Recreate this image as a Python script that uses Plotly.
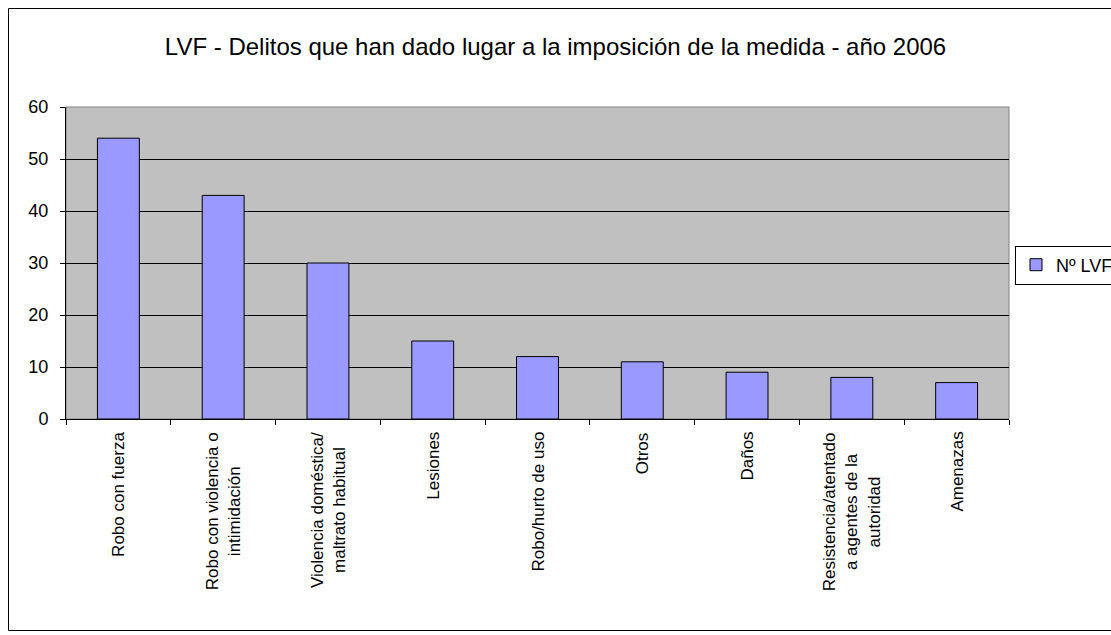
import plotly.graph_objects as go

categories = [
    "Robo con fuerza",
    "Robo con violencia o<br>intimidación",
    "Violencia doméstica/<br>maltrato habitual",
    "Lesiones",
    "Robo/hurto de uso",
    "Otros",
    "Daños",
    "Resistencia/atentado<br>a agentes de la<br>autoridad",
    "Amenazas",
]
values = [54, 43, 30, 15, 12, 11, 9, 8, 7]
series_name = "Nº LVF"
title = "LVF - Delitos que han dado lugar a la imposición de la medida - año 2006"

fig = go.Figure()
fig.add_trace(go.Bar(
    x=categories, y=values, name=series_name,
    marker=dict(color="#9999FF", line=dict(color="black", width=1)),
    width=0.4,
))

W, H = 1111, 635
L, R, T, B = 66, 1009, 107, 419
pw, ph = R - L, B - T

def px(x):
    return (x - L) / pw

def py(y):
    return (B - y) / ph

annotations = [
    dict(text=c, x=c, xref="x", y=py(430), yref="paper", textangle=-90,
         xanchor="center", yanchor="top", align="center", showarrow=False,
         font=dict(size=17))
    for c in categories
]

fig.update_layout(
    width=W, height=H,
    margin=dict(l=L, r=W - R, t=T, b=H - B, autoexpand=False),
    paper_bgcolor="white",
    plot_bgcolor="#C0C0C0",
    font=dict(family="Liberation Sans, Arial, sans-serif", size=16, color="black"),
    title=dict(text=title, x=0.5, xanchor="center", y=1 - 47 / H, yanchor="middle",
               font=dict(size=24)),
    showlegend=True,
    legend=dict(x=px(1015), xanchor="left", y=py(265), yanchor="middle",
                bgcolor="white", bordercolor="black", borderwidth=1,
                font=dict(size=18), itemwidth=30),
    bargap=0.6,
    annotations=annotations,
    xaxis=dict(
        type="category", tickson="boundaries", showticklabels=False,
        ticks="outside", ticklen=5, tickcolor="black",
        showline=True, linecolor="black", linewidth=1,
        showgrid=False,
    ),
    yaxis=dict(
        range=[0, 60], dtick=10, ticks="outside", ticklen=5, tickcolor="black",
        showline=True, linecolor="black", linewidth=1,
        showgrid=True, gridcolor="black", gridwidth=1,
        zeroline=False, tickfont=dict(size=18), ticklabelstandoff=8,
    ),
    shapes=[
        dict(type="rect", xref="paper", yref="paper", x0=0, y0=0, x1=1, y1=1,
             line=dict(color="#808080", width=1), layer="below"),
        dict(type="rect", xref="paper", yref="paper",
             x0=px(8.5), y0=py(630.5), x1=px(1120), y1=py(8.5),
             line=dict(color="black", width=1), fillcolor="rgba(0,0,0,0)"),
    ],
)

fig.write_html(
    "out.html",
    config={"displayModeBar": False},
    post_script="document.body.style.margin='0';document.body.style.overflow='hidden';",
)
